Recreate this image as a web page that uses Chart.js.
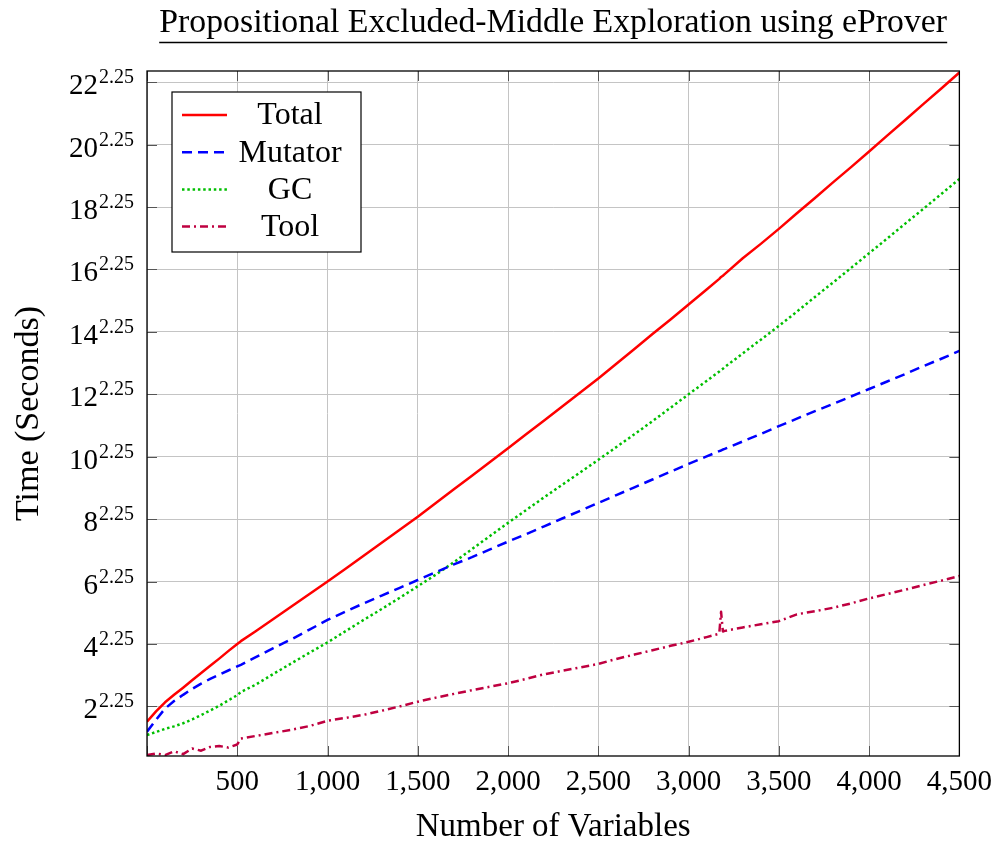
<!DOCTYPE html>
<html>
<head>
<meta charset="utf-8">
<script src="https://cdn.jsdelivr.net/npm/chart.js@4.4.1/dist/chart.umd.min.js"></script>
<style>
    html, body { margin: 0; padding: 0; background: #fff; }
</style>
</head>
<body>
<canvas id="chart" width="1001" height="841"></canvas>
<script>
// values are on the (seconds)^(1/2.25) axis, as the plot shows them
const variables = [0, 50, 100, 150, 200, 250, 300, 350, 400, 450, 500, 520,
    600, 700, 800, 900, 1000, 1100, 1200, 1300, 1400, 1500, 1600, 1700, 1800, 1900,
    2000, 2100, 2200, 2300, 2400, 2500, 2600, 2700, 2800, 2900, 3000, 3100,
    3170, 3180, 3190,
    3200, 3300, 3400, 3500, 3600, 3700, 3800, 3900, 4000, 4100, 4200, 4300, 4400, 4500];

const totalTime = [1.51, 1.84, 2.13, 2.37, 2.60, 2.84, 3.07, 3.30, 3.53, 3.77, 4.00, 4.09,
    4.40, 4.80, 5.20, 5.60, 6.00, 6.41, 6.83, 7.24, 7.66, 8.08, 8.52, 8.96, 9.39, 9.83,
    10.27, 10.72, 11.16, 11.61, 12.06, 12.51, 12.98, 13.45, 13.93, 14.40, 14.88, 15.36,
    15.70, 15.76, 15.80,
    15.85, 16.36, 16.82, 17.30, 17.80, 18.29, 18.79, 19.28, 19.78, 20.29, 20.79, 21.30, 21.80, 22.31];

const mutatorTime = [1.19, 1.57, 1.93, 2.17, 2.37, 2.56, 2.73, 2.88, 3.02, 3.15, 3.28, 3.33,
    3.57, 3.87, 4.15, 4.46, 4.77, 5.04, 5.30, 5.55, 5.80, 6.05, 6.30, 6.55, 6.78, 7.03,
    7.28, 7.52, 7.77, 8.02, 8.27, 8.52, 8.77, 9.02, 9.27, 9.52, 9.77, 10.01,
    10.18, 10.20, 10.23,
    10.25, 10.49, 10.73, 10.98, 11.22, 11.46, 11.69, 11.93, 12.17, 12.41, 12.65, 12.90, 13.14, 13.39];

const gcTime = [1.08, 1.18, 1.28, 1.36, 1.46, 1.58, 1.72, 1.87, 2.02, 2.19, 2.36, 2.46,
    2.69, 3.04, 3.38, 3.72, 4.05, 4.41, 4.77, 5.12, 5.48, 5.85, 6.22, 6.62, 7.04, 7.46,
    7.88, 8.29, 8.70, 9.10, 9.50, 9.90, 10.31, 10.72, 11.14, 11.57, 12.00, 12.43,
    12.73, 12.78, 12.82,
    12.87, 13.31, 13.75, 14.19, 14.65, 15.12, 15.58, 16.05, 16.52, 16.99, 17.47, 17.94, 18.42, 18.90];

const toolTime = [0.44, 0.49, 0.44, 0.56, 0.47, 0.65, 0.58, 0.70, 0.73, 0.68, 0.78, 0.97,
    1.05, 1.15, 1.25, 1.37, 1.54, 1.63, 1.73, 1.86, 2.00, 2.15, 2.28, 2.40, 2.52, 2.63,
    2.74, 2.88, 3.03, 3.14, 3.25, 3.36, 3.52, 3.66, 3.80, 3.94, 4.07, 4.22,
    4.33, 5.03, 4.40,
    4.42, 4.53, 4.63, 4.73, 4.95, 5.05, 5.16, 5.30, 5.46, 5.60, 5.74, 5.89, 6.03, 6.18];

const yTicks = [2, 4, 6, 8, 10, 12, 14, 16, 18, 20, 22];
const tickExponent = '2.25';
const chartTitle = 'Propositional Excluded-Middle Exploration using eProver';

const FONT = "'Liberation Serif', 'Times New Roman', serif";

function points(ys) {
    return variables.map((x, i) => ({ x, y: ys[i] }));
}

const series = [
    { label: 'Total', data: totalTime, color: '#ff0000', dash: [] },
    { label: 'Mutator', data: mutatorTime, color: '#0000ff', dash: [10, 6] },
    { label: 'GC', data: gcTime, color: '#00bf00', dash: [2.5, 2.8] },
    { label: 'Tool', data: toolTime, color: '#bf0040', dash: [8, 4, 2, 4] }
];

const pgfDecor = {
    id: 'pgfDecor',
    beforeDatasetsDraw(chart) {
        const { ctx, chartArea: a, scales } = chart;
        ctx.save();
        ctx.strokeStyle = '#555';
        ctx.lineWidth = 1;
        ctx.beginPath();
        scales.x.ticks.forEach(t => {
            const px = Math.round(scales.x.getPixelForValue(t.value)) + 0.5;
            ctx.moveTo(px, a.bottom); ctx.lineTo(px, a.bottom - 10);
            ctx.moveTo(px, a.top); ctx.lineTo(px, a.top + 10);
        });
        yTicks.forEach(v => {
            const py = Math.round(scales.y.getPixelForValue(v)) + 0.5;
            ctx.moveTo(a.left, py); ctx.lineTo(a.left + 10, py);
            ctx.moveTo(a.right, py); ctx.lineTo(a.right - 10, py);
        });
        ctx.stroke();
        ctx.restore();
    },
    afterDraw(chart) {
        const { ctx, chartArea: a, scales } = chart;
        ctx.save();

        // frame
        ctx.strokeStyle = '#000';
        ctx.lineWidth = 1.3;
        ctx.strokeRect(a.left, a.top, a.right - a.left, a.bottom - a.top);

        // y tick labels: n^2.25
        ctx.fillStyle = '#000';
        ctx.textAlign = 'left';
        ctx.textBaseline = 'alphabetic';
        const labelRight = a.left - 13;
        yTicks.forEach(v => {
            const py = scales.y.getPixelForValue(v);
            ctx.font = `20px ${FONT}`;
            const supW = ctx.measureText(tickExponent).width;
            ctx.fillText(tickExponent, labelRight - supW, py + 1);
            ctx.font = `29px ${FONT}`;
            const base = String(v);
            const baseW = ctx.measureText(base).width;
            ctx.fillText(base, labelRight - supW - baseW - 1, py + 12);
        });

        // title with rule underneath
        ctx.font = `30px ${FONT}`;
        const size = 30 * 788 / ctx.measureText(chartTitle).width;
        ctx.font = `${size}px ${FONT}`;
        const cx = (a.left + a.right) / 2;
        ctx.textAlign = 'center';
        ctx.fillText(chartTitle, cx, 32);
        ctx.lineWidth = 1.5;
        ctx.beginPath();
        ctx.moveTo(cx - 394, 42.5);
        ctx.lineTo(cx + 394, 42.5);
        ctx.stroke();

        // legend box
        const lx = a.left + 25, ly = a.top + 21, lw = 189, lh = 160;
        ctx.fillStyle = '#fff';
        ctx.fillRect(lx, ly, lw, lh);
        ctx.lineWidth = 1.2;
        ctx.strokeStyle = '#000';
        ctx.strokeRect(lx, ly, lw, lh);
        ctx.font = `32px ${FONT}`;
        ctx.textBaseline = 'middle';
        ctx.textAlign = 'center';
        series.forEach((s, i) => {
            const ry = ly + 23 + i * 37.2;
            ctx.strokeStyle = s.color;
            ctx.lineWidth = 2.5;
            ctx.setLineDash(s.dash);
            ctx.beginPath();
            ctx.moveTo(lx + 10, ry);
            ctx.lineTo(lx + 55, ry);
            ctx.stroke();
            ctx.setLineDash([]);
            ctx.fillStyle = '#000';
            ctx.fillText(s.label, lx + 118, ry + 1);
        });

        ctx.restore();
    }
};

const ctx = document.getElementById('chart').getContext('2d');
new Chart(ctx, {
    type: 'line',
    data: {
        datasets: series.map(s => ({
            label: s.label,
            data: points(s.data),
            borderColor: s.color,
            backgroundColor: s.color,
            borderDash: s.dash,
            borderWidth: 2.5,
            borderCapStyle: 'butt',
            borderJoinStyle: 'round',
            pointRadius: 0,
            tension: 0,
            fill: false
        }))
    },
    options: {
        responsive: false,
        animation: false,
        layout: { padding: { top: 71, right: 38, bottom: 0, left: 0 } },
        plugins: {
            legend: { display: false },
            title: { display: false },
            tooltip: { enabled: false }
        },
        scales: {
            x: {
                type: 'linear',
                min: 0,
                max: 4500,
                afterFit: scale => { scale.height = 85; },
                grid: { color: '#c4c4c4', lineWidth: 1, drawTicks: false },
                border: { display: false },
                ticks: {
                    stepSize: 500,
                    padding: 9,
                    maxRotation: 0,
                    color: '#000',
                    font: { family: FONT, size: 29 },
                    callback: v => v === 0 ? '' : v.toLocaleString('en-US')
                },
                title: {
                    display: true,
                    text: 'Number of Variables',
                    color: '#000',
                    font: { family: FONT, size: 33, lineHeight: 0.85 },
                    padding: { top: 0, bottom: 0 }
                }
            },
            y: {
                type: 'linear',
                min: 0.41,
                max: 22.36,
                afterFit: scale => { scale.width = 147; },
                grid: { color: '#c4c4c4', lineWidth: 1, drawTicks: false },
                border: { display: false },
                ticks: { stepSize: 2, includeBounds: false, display: false },
                title: {
                    display: true,
                    text: 'Time (Seconds)',
                    color: '#000',
                    font: { family: FONT, size: 34, lineHeight: 1.2 },
                    padding: { top: 9, bottom: 0 }
                }
            }
        }
    },
    plugins: [pgfDecor]
});
</script>
</body>
</html>
